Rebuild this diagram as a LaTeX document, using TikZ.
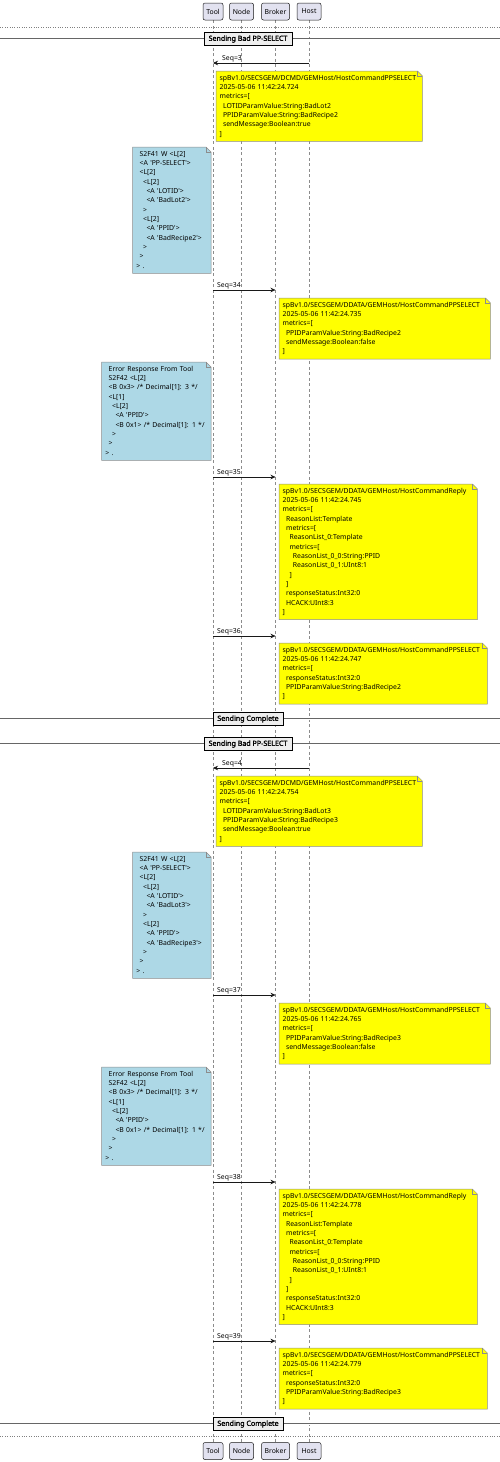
\documentclass[tikz,border=0pt]{standalone}
\usepackage{fontspec}
\setmainfont{Noto Sans}
\newfontfamily\divface{Noto Sans}[FakeBold=1.6]
\usetikzlibrary{arrows.meta,backgrounds}
\pgfdeclarelayer{lifelayer}
\pgfsetlayers{lifelayer,background,main}

\definecolor{partfill}{HTML}{E2E2F0}
\definecolor{partline}{HTML}{181818}
\definecolor{noteyellow}{HTML}{FFFF00}
\definecolor{noteblue}{HTML}{ADD8E6}
\definecolor{noteline}{HTML}{8C8C8C}
\definecolor{divfill}{HTML}{EEEEEE}

\newcommand{\notefont}{\fontsize{6.85}{9.33}\selectfont}
\newcommand{\divfont}{\divface\fontsize{7.1}{9}\selectfont}
\newcommand{\indt}{\hspace*{3.4pt}}
\newcommand{\sq}{\textquotesingle}
\newcommand{\notebg}[2]{%
  \filldraw[fill=#2, draw=noteline, line width=0.5pt] (#1.north west) -- ([xshift=-5pt]#1.north east) -- ([yshift=-5pt]#1.north east) -- (#1.south east) -- (#1.south west) -- cycle;
  \draw[noteline, line width=0.5pt] ([xshift=-5pt]#1.north east) |- ([yshift=-5pt]#1.north east);}

\begin{document}
\begin{tikzpicture}[x=1pt, y=-1pt,
  part/.style={draw=partline, fill=partfill, rounded corners=2pt, line width=0.5pt, minimum height=17pt, inner sep=0pt, font=\notefont},
  lifeline/.style={draw=black!45, dash pattern=on 3pt off 2.5pt, line width=0.4pt},
  divline/.style={draw=black!60, line width=0.8pt, double=white, double distance=1pt},
  divider/.style={draw=black, fill=divfill, line width=0.8pt, minimum height=13pt, inner xsep=3pt, inner ysep=0pt, font=\divfont},
  msg/.style={draw=partline, line width=0.5pt, -{Stealth[length=5pt,width=4.5pt]}},
  seqlabel/.style={anchor=base west, inner sep=0pt, font=\notefont},
  rnote/.style={anchor=north west, inner xsep=3.5pt, inner ysep=2.35pt, align=left, font=\notefont, execute at begin node={\parindent=0pt\strut}, execute at end node=\strut},
  lnote/.style={rnote, anchor=north east}]
\useasboundingbox (0,0) rectangle (500,1462);

% Participants, top and bottom
\node[part, minimum width=20pt] (ptool) at (213,11.5) {Tool};
\node[part, minimum width=24pt] (pnode) at (241.5,11.5) {Node};
\node[part, minimum width=28pt] (pbroker) at (275.5,11.5) {Broker};
\node[part, minimum width=24pt] (phost) at (309,11.5) {Host};
\node[part, minimum width=20pt] (btool) at (213,1451) {Tool};
\node[part, minimum width=24pt] (bnode) at (241.5,1451) {Node};
\node[part, minimum width=28pt] (bbroker) at (275.5,1451) {Broker};
\node[part, minimum width=24pt] (bhost) at (309,1451) {Host};

% Lifelines
\begin{pgfonlayer}{lifelayer}
\draw[lifeline] (ptool) -- (btool);
\draw[lifeline] (pnode) -- (bnode);
\draw[lifeline] (pbroker) -- (bbroker);
\draw[lifeline] (phost) -- (bhost);
\end{pgfonlayer}

\draw[black!50, dotted, line width=0.4pt] (0,27) -- (500,27);
\draw[black!50, dotted, line width=0.4pt] (0,1436) -- (500,1436);

% First run
\draw[divline] (0,39) -- (500,39);
\node[divider, minimum width=88pt] (d1) at (248,39) {Sending Bad PP-SELECT};

\coordinate (r3) at (0,63);
\draw[msg] (phost |- r3) -- (ptool |- r3);
\node[seqlabel] (l3) at (222,60) {Seq=3};
\node[rnote, text width=199pt] (n1) at (216,71) {spBv1.0/SECSGEM/DCMD/GEMHost/HostCommandPPSELECT\\
2025-05-06 11:42:24.724\\
metrics=[\\
\indt LOTIDParamValue:String:BadLot2\\
\indt PPIDParamValue:String:BadRecipe2\\
\indt sendMessage:Boolean:true\\
]};
\node[lnote, text width=71pt] (b1) at (211,147) {\indt S2F41 W <L[2]\\
\indt <A \sq PP-SELECT\sq>\\
\indt <L[2]\\
\indt\indt <L[2]\\
\indt\indt\indt <A \sq LOTID\sq>\\
\indt\indt\indt <A \sq BadLot2\sq>\\
\indt\indt >\\
\indt\indt <L[2]\\
\indt\indt\indt <A \sq PPID\sq>\\
\indt\indt\indt <A \sq BadRecipe2\sq>\\
\indt\indt >\\
\indt >\\
> .};

\coordinate (r34) at (0,290);
\draw[msg] (ptool |- r34) -- (pbroker |- r34);
\node[seqlabel] (l34) at (217,287) {Seq=34};
\node[rnote, text width=204pt] (n2) at (279,298) {spBv1.0/SECSGEM/DDATA/GEMHost/HostCommandPPSELECT\\
2025-05-06 11:42:24.735\\
metrics=[\\
\indt PPIDParamValue:String:BadRecipe2\\
\indt sendMessage:Boolean:false\\
]};
\node[lnote, text width=102pt] (b2) at (211,362) {\indt Error Response From Tool\\
\indt S2F42 <L[2]\\
\indt <B 0x3> /* Decimal[1]: 3 */\\
\indt <L[1]\\
\indt\indt <L[2]\\
\indt\indt\indt <A \sq PPID\sq>\\
\indt\indt\indt <B 0x1> /* Decimal[1]: 1 */\\
\indt\indt >\\
\indt >\\
> .};

\coordinate (r35) at (0,477);
\draw[msg] (ptool |- r35) -- (pbroker |- r35);
\node[seqlabel] (l35) at (217,474) {Seq=35};
\node[rnote, text width=191pt] (n3) at (279,484) {spBv1.0/SECSGEM/DDATA/GEMHost/HostCommandReply\\
2025-05-06 11:42:24.745\\
metrics=[\\
\indt ReasonList:Template\\
\indt metrics=[\\
\indt\indt ReasonList\_0:Template\\
\indt\indt metrics=[\\
\indt\indt\indt ReasonList\_0\_0:String:PPID\\
\indt\indt\indt ReasonList\_0\_1:UInt8:1\\
\indt\indt ]\\
\indt ]\\
\indt responseStatus:Int32:0\\
\indt HCACK:UInt8:3\\
]};

\coordinate (r36) at (0,636);
\draw[msg] (ptool |- r36) -- (pbroker |- r36);
\node[seqlabel] (l36) at (217,633) {Seq=36};
\node[rnote, text width=201pt] (n4) at (279,643) {spBv1.0/SECSGEM/DDATA/GEMHost/HostCommandPPSELECT\\
2025-05-06 11:42:24.747\\
metrics=[\\
\indt responseStatus:Int32:0\\
\indt PPIDParamValue:String:BadRecipe2\\
]};

\draw[divline] (0,719) -- (500,719);
\node[divider, minimum width=70pt] (d2) at (248,719) {Sending Complete};

% Second run
\draw[divline] (0,744) -- (500,744);
\node[divider, minimum width=88pt] (d3) at (248,744) {Sending Bad PP-SELECT};

\coordinate (r4) at (0,768);
\draw[msg] (phost |- r4) -- (ptool |- r4);
\node[seqlabel] (l4) at (222,765) {Seq=4};
\node[rnote, text width=199pt] (n5) at (216,776) {spBv1.0/SECSGEM/DCMD/GEMHost/HostCommandPPSELECT\\
2025-05-06 11:42:24.754\\
metrics=[\\
\indt LOTIDParamValue:String:BadLot3\\
\indt PPIDParamValue:String:BadRecipe3\\
\indt sendMessage:Boolean:true\\
]};
\node[lnote, text width=71pt] (b3) at (211,852) {\indt S2F41 W <L[2]\\
\indt <A \sq PP-SELECT\sq>\\
\indt <L[2]\\
\indt\indt <L[2]\\
\indt\indt\indt <A \sq LOTID\sq>\\
\indt\indt\indt <A \sq BadLot3\sq>\\
\indt\indt >\\
\indt\indt <L[2]\\
\indt\indt\indt <A \sq PPID\sq>\\
\indt\indt\indt <A \sq BadRecipe3\sq>\\
\indt\indt >\\
\indt >\\
> .};

\coordinate (r37) at (0,995);
\draw[msg] (ptool |- r37) -- (pbroker |- r37);
\node[seqlabel] (l37) at (217,992) {Seq=37};
\node[rnote, text width=204pt] (n6) at (279,1003) {spBv1.0/SECSGEM/DDATA/GEMHost/HostCommandPPSELECT\\
2025-05-06 11:42:24.765\\
metrics=[\\
\indt PPIDParamValue:String:BadRecipe3\\
\indt sendMessage:Boolean:false\\
]};
\node[lnote, text width=102pt] (b4) at (211,1067) {\indt Error Response From Tool\\
\indt S2F42 <L[2]\\
\indt <B 0x3> /* Decimal[1]: 3 */\\
\indt <L[1]\\
\indt\indt <L[2]\\
\indt\indt\indt <A \sq PPID\sq>\\
\indt\indt\indt <B 0x1> /* Decimal[1]: 1 */\\
\indt\indt >\\
\indt >\\
> .};

\coordinate (r38) at (0,1182);
\draw[msg] (ptool |- r38) -- (pbroker |- r38);
\node[seqlabel] (l38) at (217,1179) {Seq=38};
\node[rnote, text width=191pt] (n7) at (279,1189) {spBv1.0/SECSGEM/DDATA/GEMHost/HostCommandReply\\
2025-05-06 11:42:24.778\\
metrics=[\\
\indt ReasonList:Template\\
\indt metrics=[\\
\indt\indt ReasonList\_0:Template\\
\indt\indt metrics=[\\
\indt\indt\indt ReasonList\_0\_0:String:PPID\\
\indt\indt\indt ReasonList\_0\_1:UInt8:1\\
\indt\indt ]\\
\indt ]\\
\indt responseStatus:Int32:0\\
\indt HCACK:UInt8:3\\
]};

\coordinate (r39) at (0,1341);
\draw[msg] (ptool |- r39) -- (pbroker |- r39);
\node[seqlabel] (l39) at (217,1338) {Seq=39};
\node[rnote, text width=201pt] (n8) at (279,1348) {spBv1.0/SECSGEM/DDATA/GEMHost/HostCommandPPSELECT\\
2025-05-06 11:42:24.779\\
metrics=[\\
\indt responseStatus:Int32:0\\
\indt PPIDParamValue:String:BadRecipe3\\
]};

\draw[divline] (0,1424) -- (500,1424);
\node[divider, minimum width=70pt] (d4) at (248,1424) {Sending Complete};

% Note papers behind the texts
\begin{pgfonlayer}{background}
\notebg{n1}{noteyellow}
\notebg{n2}{noteyellow}
\notebg{n3}{noteyellow}
\notebg{n4}{noteyellow}
\notebg{n5}{noteyellow}
\notebg{n6}{noteyellow}
\notebg{n7}{noteyellow}
\notebg{n8}{noteyellow}
\notebg{b1}{noteblue}
\notebg{b2}{noteblue}
\notebg{b3}{noteblue}
\notebg{b4}{noteblue}
\end{pgfonlayer}
\end{tikzpicture}
\end{document}
